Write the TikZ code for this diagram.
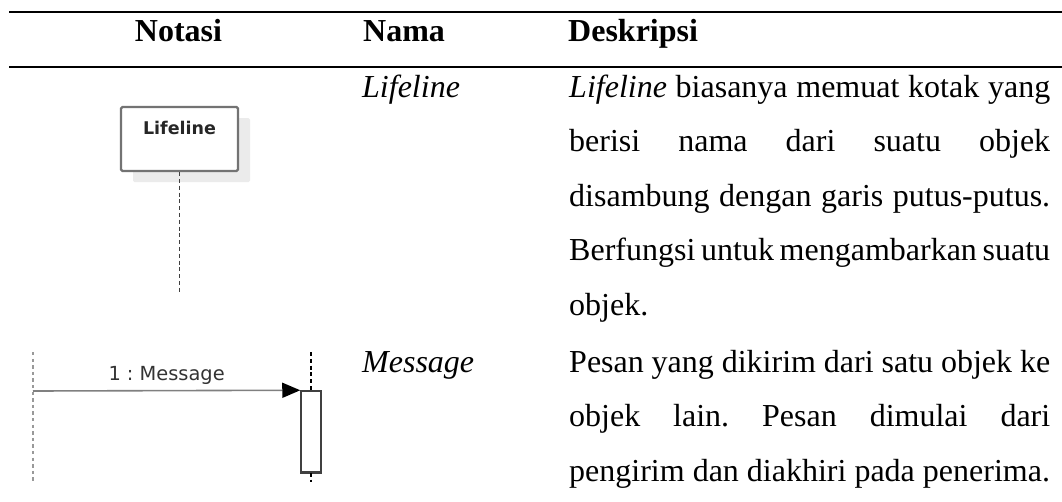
\documentclass[tikz,border=0pt]{standalone}
\usepackage{fontspec}
\setmainfont{Liberation Serif}
\newfontfamily\umlfont{DejaVu Sans}
\usetikzlibrary{arrows.meta,shadows}
\frenchspacing

\begin{document}
\begin{tikzpicture}[x=1pt,y=-1pt,
  body/.style={anchor=base west, inner sep=0pt, font=\fontsize{32}{38}\selectfont},
  headc/.style={anchor=base, inner sep=0pt, font=\fontsize{32}{38}\selectfont\bfseries},
  headl/.style={headc, anchor=base west},
  tabrule/.style={line width=2pt, black},
  lifebox/.style={draw=black!55, line width=2.2pt, fill=white, rounded corners=1.5pt,
    minimum width=117pt, minimum height=64pt, inner sep=0pt,
    drop shadow={shadow xshift=12pt, shadow yshift=-11pt, fill=black!8, opacity=1}},
  lifename/.style={anchor=base, inner sep=0pt, text=black!85,
    font=\umlfont\bfseries\fontsize{17.5}{20}\selectfont},
  lifedash/.style={draw=black!75, line width=1.4pt, dash pattern=on 4pt off 2.8pt},
  srcdots/.style={draw=black!40, line width=2.4pt, dash pattern=on 3.3pt off 3.3pt},
  actbox/.style={draw=black!75, line width=1.5pt, fill=white, minimum width=20pt,
    minimum height=81pt, inner sep=0pt},
  msg/.style={draw=black!50, line width=1.6pt,
    -{Triangle[length=18pt,width=15pt,color=black]}},
  msglabel/.style={anchor=base, inner sep=0pt, yshift=10pt, text=black!80,
    font=\umlfont\fontsize{19.4}{22}\selectfont},
]
\useasboundingbox (0,0) rectangle (1062,501);

% table rules
\draw[tabrule] (9,12) -- (1062,12);
\draw[tabrule] (9,67) -- (1062,67);

% header
\node[headc] (hnot) at (178.5,41) {Notasi};
\node[headl] (hnam) at (363,41) {Nama};
\node[headl] (hdes) at (568,41) {Deskripsi};

% row 1: lifeline
\node[lifebox] (lbox) at (179.5,139) {};
\node[lifename] (lname) at (179.5,134) {Lifeline};
\coordinate (lend) at (179.5,293);
\draw[lifedash] (lbox.south) -- (lend);

\node[body] (n1) at (362,97) {\textit{Lifeline}};
\node[body] (d11) at (569,97) {\makebox[481pt][s]{\textit{Lifeline} biasanya memuat kotak yang}};
\node[body] (d12) at (569,151.5) {\makebox[481pt][s]{berisi nama dari suatu objek}};
\node[body] (d13) at (569,206) {\makebox[481pt][s]{disambung dengan garis putus-putus.}};
\node[body] (d14) at (569,260.5) {\makebox[481pt][s]{Berfungsi untuk mengambarkan suatu}};
\node[body] (d15) at (569,315) {objek.};

% row 2: message
\coordinate (srctop) at (33,352);
\coordinate (srcbot) at (33,482);
\draw[srcdots] (srctop) -- (srcbot);
\coordinate (src) at (33,391);

\node[actbox] (act) at (311,431.5) {};
\draw[black!75, line width=2.6pt] (act.south west) -- (act.south east);
\coordinate (rtop) at (311,352);
\coordinate (rbot) at (311,482);
\draw[lifedash, draw=black] (rtop) -- (act.north);
\draw[lifedash, draw=black] (act.south) -- (rbot);

\draw[msg] (src) -- node[msglabel] {1 : Message} (act.north west);

\node[body] (n2) at (362,372) {\textit{Message}};
\node[body] (d21) at (569,372) {\makebox[481pt][s]{Pesan yang dikirim dari satu objek ke}};
\node[body] (d22) at (569,426.5) {\makebox[481pt][s]{objek lain. Pesan dimulai dari}};
\node[body] (d23) at (569,481) {pengirim dan diakhiri pada penerima.};
\end{tikzpicture}
\end{document}
